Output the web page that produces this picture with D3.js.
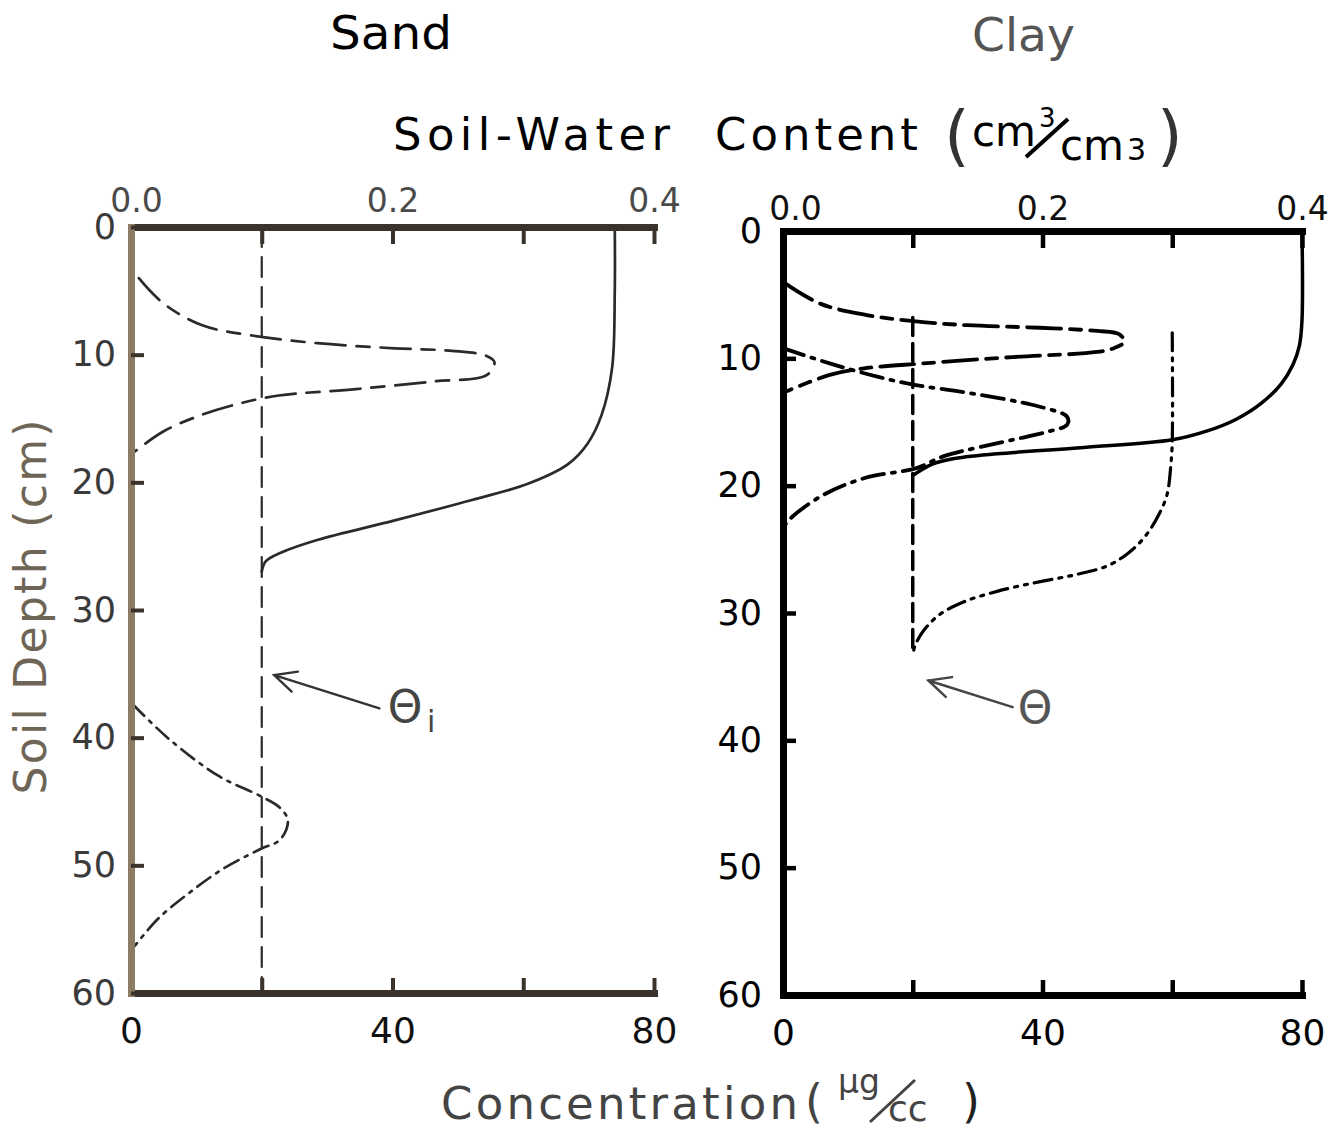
<!DOCTYPE html>
<html>
<head>
<meta charset="utf-8">
<script src="https://cdn.jsdelivr.net/npm/d3@7"></script>
<style>
  html, body { margin: 0; padding: 0; background: #fff; }
  svg { display: block; }
  text { font-family: "DejaVu Sans", sans-serif; }
</style>
</head>
<body>
<div id="chart"></div>
<script>
// Axis ticks
const DEPTH_TICKS = [0, 10, 20, 30, 40, 50, 60];
const CONC_TICKS = [0, 20, 40, 60, 80];
const CONC_LABELS = ["0", "", "40", "", "80"];
const THETA_TICKS = [0, 0.1, 0.2, 0.3, 0.4];
const THETA_LABELS = ["0.0", "", "0.2", "", "0.4"];

// Sand: water content profile (solid)
const sandThetaDepth = [0, 5, 11, 14.7, 17, 18.6, 20.1, 21.4, 23, 24.5, 25.5, 26.2, 27.0];
const sandThetaValue = [0.370, 0.370, 0.368, 0.360, 0.349, 0.334, 0.304, 0.260, 0.201, 0.143, 0.115, 0.103, 0.100];
// Sand: early concentration pulse (long-short dash)
const sandEarlyDepth = [4.0, 6.0, 7.7, 8.5, 9.1, 9.5, 9.7, 10.1, 10.6, 11.6, 12.1, 12.7, 13.2, 13.8, 14.7, 16.0, 17.7];
const sandEarlyConc = [1.2, 5.0, 10.9, 18.5, 28.5, 40.3, 49.1, 54.4, 55.6, 54.4, 46.2, 34.4, 22.6, 16.8, 10.9, 5.0, 0.3];
// Sand: late concentration pulse (dash-dot)
const sandLateDepth = [37.4, 40.1, 43.0, 44.6, 45.5, 46.5, 48.0, 48.7, 50.3, 52.2, 54.2, 56.3];
const sandLateConc = [0.3, 5.8, 13.4, 19.9, 22.8, 24.0, 22.8, 19.9, 14.0, 8.8, 4.1, 0.6];
// Sand: initial water content line
const sandInitDepth = [0, 60];
const sandInitTheta = [0.1, 0.1];

// Clay: water content profile (solid)
const clayThetaDepth = [0, 7, 9, 10.5, 12, 13.5, 14.8, 15.7, 16.4, 17.0, 17.5, 17.9, 18.3, 18.8, 19.2];
const clayThetaValue = [0.400, 0.400, 0.398, 0.393, 0.384, 0.369, 0.349, 0.327, 0.300, 0.232, 0.165, 0.130, 0.115, 0.106, 0.100];
// Clay: later water content profile (dash-dot-dot)
const clayLateThetaDepth = [8.0, 16.5, 18.3, 20.7, 22.2, 24.0, 25.3, 26.3, 27.0, 27.6, 28.3, 29.1, 30.1, 31.3, 32.5, 33.3];
const clayLateThetaValue = [0.300, 0.300, 0.299, 0.296, 0.290, 0.279, 0.266, 0.250, 0.225, 0.195, 0.165, 0.140, 0.121, 0.109, 0.102, 0.100];
// Clay: early concentration pulse (long-short dash)
const clayEarlyDepth = [4.0, 5.7, 6.6, 7.1, 7.4, 7.6, 7.85, 8.1, 8.7, 9.2, 9.5, 9.9, 10.4, 10.8, 11.3, 12.7];
const clayEarlyConc = [0.0, 5.7, 12.9, 20.5, 28.4, 39.6, 48.4, 51.8, 52.6, 51.0, 48.4, 35.4, 21.6, 12.3, 7.2, 0.0];
// Clay: later concentration pulse (dash-dot)
const clayMidDepth = [9.2, 10.4, 11.5, 12.1, 12.7, 13.8, 14.6, 15.2, 15.8, 16.4, 17.7, 18.6, 19.4, 20.7, 22.5, 23.3];
const clayMidConc = [0.0, 7.2, 15.0, 20.5, 28.4, 39.6, 43.8, 43.8, 40.5, 35.4, 24.7, 20.7, 12.6, 6.3, 1.3, 0.0];
// Clay: initial water content line
const clayInitDepth = [6.8, 33.3];
const clayInitTheta = [0.1, 0.1];

const W = 1341, H = 1131;

const svg = d3.select("#chart").append("svg")
    .attr("width", W)
    .attr("height", H);

svg.append("rect").attr("width", W).attr("height", H).attr("fill", "#fff");

const panels = [
    {
        left: 131, right: 654, top: 227, bottom: 993,
        axisColor: "#3a332c", leftAxisColor: "#8c7c66",
        axisWidth: 7, tickWidth: 4,
        leftLabelColor: "#3a3a3a", topLabelColor: "#4a4a4a", bottomLabelColor: "#111",
        leftPad: 15, topPad: 15, bottomPad: 24, topDx0: 5,
        ink: "#2a2a2a", lineWidth: 2.7,
        series: [
            { depth: sandThetaDepth, vals: sandThetaValue, theta: true, dash: null },
            { depth: sandInitDepth, vals: sandInitTheta, theta: true, dash: "20,10", width: 2.2 },
            { depth: sandEarlyDepth, vals: sandEarlyConc, theta: false, dash: "30,11,13,11" },
            { depth: sandLateDepth, vals: sandLateConc, theta: false, dash: "16,7,3,7" }
        ],
        arrow: { from: [38, 37.7], to: [21.9, 35.1], color: "#333" },
        label: { x: 405, y: 722, text: "Θ", sub: "i", color: "#444" }
    },
    {
        left: 783, right: 1302, top: 231, bottom: 995,
        axisColor: "#000", leftAxisColor: "#000",
        axisWidth: 7, tickWidth: 4.5,
        leftLabelColor: "#000", topLabelColor: "#111", bottomLabelColor: "#000",
        leftPad: 21, topPad: 11, bottomPad: 24, topDx0: 12,
        ink: "#000", lineWidth: 3.8,
        series: [
            { depth: clayThetaDepth, vals: clayThetaValue, theta: true, dash: null, width: 3.5 },
            { depth: clayInitDepth, vals: clayInitTheta, theta: true, dash: "18,8", width: 3.5 },
            { depth: clayLateThetaDepth, vals: clayLateThetaValue, theta: true, dash: "18,7,3,7,3,7", width: 3.2 },
            { depth: clayEarlyDepth, vals: clayEarlyConc, theta: false, dash: "34,9,11,9" },
            { depth: clayMidDepth, vals: clayMidConc, theta: false, dash: "22,8,3,8" }
        ],
        arrow: { from: [35.4, 37.4], to: [22.4, 35.3], color: "#444" },
        label: { x: 1035, y: 723, text: "Θ", sub: null, color: "#555" }
    }
];

panels.forEach(drawPanel);

function drawPanel(p) {
    const x = d3.scaleLinear().domain([0, 80]).range([p.left, p.right]);
    const xt = d3.scaleLinear().domain([0, 0.4]).range([p.left, p.right]);
    const y = d3.scaleLinear().domain([0, 60]).range([p.top, p.bottom]);

    const g = svg.append("g");

    // curves
    p.series.forEach(s => {
        const sx = s.theta ? xt : x;
        const line = d3.line()
            .x(d => sx(d[1]))
            .y(d => y(d[0]))
            .curve(d3.curveCatmullRom.alpha(0.5));
        g.append("path")
            .datum(d3.zip(s.depth, s.vals))
            .attr("fill", "none")
            .attr("stroke", p.ink)
            .attr("stroke-width", s.width || p.lineWidth)
            .attr("stroke-dasharray", s.dash)
            .attr("stroke-linecap", "round")
            .attr("d", line);
    });

    // axes
    const top = g.append("g")
        .attr("transform", `translate(0,${p.top})`)
        .call(d3.axisTop(xt).tickValues(THETA_TICKS)
            .tickFormat((d, i) => THETA_LABELS[i])
            .tickSizeInner(-17).tickSizeOuter(0).tickPadding(p.topPad));
    styleAxis(top, p.axisColor, p.axisWidth, p.tickWidth, p.topLabelColor, 33);
    top.selectAll(".tick text").filter((d, i) => i === 0).attr("dx", p.topDx0);

    const bottom = g.append("g")
        .attr("transform", `translate(0,${p.bottom})`)
        .call(d3.axisBottom(x).tickValues(CONC_TICKS)
            .tickFormat((d, i) => CONC_LABELS[i])
            .tickSizeInner(-15).tickSizeOuter(0).tickPadding(p.bottomPad));
    styleAxis(bottom, p.axisColor, p.axisWidth, p.tickWidth, p.bottomLabelColor, 36);

    const left = g.append("g")
        .attr("transform", `translate(${p.left},0)`)
        .call(d3.axisLeft(y).tickValues(DEPTH_TICKS)
            .tickFormat(d3.format("d"))
            .tickSizeInner(-13).tickSizeOuter(0).tickPadding(p.leftPad));
    styleAxis(left, p.leftAxisColor, p.axisWidth, p.tickWidth, p.leftLabelColor, 35);
    left.selectAll(".tick line").attr("stroke", p.axisColor);

    // arrow to the initial water content line
    const a = p.arrow;
    const x1 = x(a.from[0]), y1 = y(a.from[1]);
    const x2 = x(a.to[0]), y2 = y(a.to[1]);
    const ang = Math.atan2(y1 - y2, x1 - x2);
    const len = 24, spread = 0.45;
    g.append("path")
        .attr("fill", "none")
        .attr("stroke", a.color)
        .attr("stroke-width", 2.4)
        .attr("stroke-linecap", "round")
        .attr("d", `M${x1},${y1}L${x2},${y2}` +
            `M${x2 + len * Math.cos(ang - spread)},${y2 + len * Math.sin(ang - spread)}L${x2},${y2}` +
            `L${x2 + len * Math.cos(ang + spread)},${y2 + len * Math.sin(ang + spread)}`);

    g.append("text")
        .attr("x", p.label.x).attr("y", p.label.y)
        .attr("text-anchor", "middle")
        .attr("fill", p.label.color)
        .style("font-size", "44px")
        .text(p.label.text);
    if (p.label.sub) {
        g.append("text")
            .attr("x", p.label.x + 22).attr("y", p.label.y + 10)
            .attr("fill", p.label.color)
            .style("font-size", "30px")
            .text(p.label.sub);
    }
}

function styleAxis(sel, color, width, tickWidth, labelColor, size) {
    sel.attr("font-family", null).attr("font-size", null);
    sel.select(".domain")
        .attr("stroke", color)
        .attr("stroke-width", width)
        .attr("stroke-linecap", "square");
    sel.selectAll(".tick line")
        .attr("stroke", color)
        .attr("stroke-width", tickWidth);
    sel.selectAll(".tick text")
        .attr("fill", labelColor)
        .style("font-size", size + "px");
}

// titles
svg.append("text").attr("x", 330).attr("y", 49)
    .attr("fill", "#000").style("font-size", "47px")
    .attr("textLength", 122).attr("lengthAdjust", "spacingAndGlyphs")
    .text("Sand");

svg.append("text").attr("x", 972).attr("y", 51)
    .attr("fill", "#555").style("font-size", "46px")
    .attr("textLength", 103).attr("lengthAdjust", "spacingAndGlyphs")
    .text("Clay");

svg.append("text").attr("x", 393).attr("y", 150)
    .attr("fill", "#000").style("font-size", "45px")
    .attr("textLength", 277).attr("lengthAdjust", "spacing")
    .text("Soil-Water");

svg.append("text").attr("x", 715).attr("y", 150)
    .attr("fill", "#000").style("font-size", "45px")
    .attr("textLength", 203).attr("lengthAdjust", "spacing")
    .text("Content");

// (cm³/cm³)
svg.append("text").attr("x", 944).attr("y", 158)
    .attr("fill", "#333").style("font-size", "66px").text("(");
svg.append("text").attr("x", 972).attr("y", 146)
    .attr("fill", "#000").style("font-size", "42px").text("cm");
svg.append("text").attr("x", 1039).attr("y", 127)
    .attr("fill", "#000").style("font-size", "26px").text("3");
svg.append("line").attr("x1", 1026).attr("y1", 157).attr("x2", 1068).attr("y2", 119)
    .attr("stroke", "#000").attr("stroke-width", 4);
svg.append("text").attr("x", 1060).attr("y", 160)
    .attr("fill", "#000").style("font-size", "42px").text("cm");
svg.append("text").attr("x", 1127).attr("y", 160)
    .attr("fill", "#000").style("font-size", "30px").text("3");
svg.append("text").attr("x", 1157).attr("y", 158)
    .attr("fill", "#333").style("font-size", "66px").text(")");

// y axis title
svg.append("text")
    .attr("transform", "translate(46,607) rotate(-90)")
    .attr("text-anchor", "middle")
    .attr("fill", "#6f6556")
    .style("font-size", "44px")
    .attr("textLength", 375).attr("lengthAdjust", "spacing")
    .text("Soil Depth (cm)");

// x axis title
svg.append("text").attr("x", 441).attr("y", 1119)
    .attr("fill", "#444").style("font-size", "45px")
    .attr("textLength", 357).attr("lengthAdjust", "spacing")
    .text("Concentration");
svg.append("text").attr("x", 805).attr("y", 1117)
    .attr("fill", "#444").style("font-size", "46px").text("(");
svg.append("text").attr("x", 838).attr("y", 1093)
    .attr("fill", "#444").style("font-size", "33px").text("µg");
svg.append("line").attr("x1", 870).attr("y1", 1122).attr("x2", 915).attr("y2", 1080)
    .attr("stroke", "#444").attr("stroke-width", 3);
svg.append("text").attr("x", 888).attr("y", 1121)
    .attr("fill", "#444").style("font-size", "36px").text("cc");
svg.append("text").attr("x", 962).attr("y", 1117)
    .attr("fill", "#222").style("font-size", "46px").text(")");
</script>
</body>
</html>
